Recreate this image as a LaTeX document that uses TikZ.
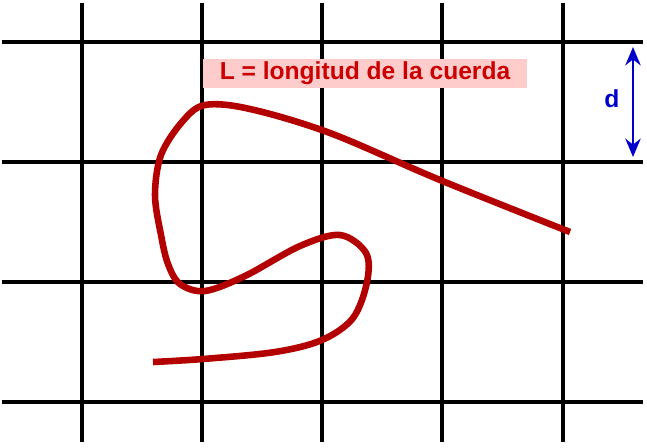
\documentclass[tikz,border=0pt]{standalone}
\usepackage{fontspec}
\setmainfont{Liberation Sans}
\usetikzlibrary{arrows.meta, positioning}
\definecolor{ropered}{RGB}{179,0,0}
\definecolor{labelred}{RGB}{204,0,0}
\definecolor{labelpink}{RGB}{255,204,204}
\definecolor{dimblue}{RGB}{0,0,204}

\begin{document}
\begin{tikzpicture}[
        x=0.03cm, y=-0.03cm,
        font=\fontsize{21}{24}\selectfont\bfseries,
        gridline/.style={
            draw=black,
            line width=3.4pt
        },
        rope/.style={
            draw=ropered,
            line width=5.6pt,
            line cap=butt
        },
        labelbox/.style={
            fill=labelpink,
            text=labelred,
            minimum width=324*0.03cm,
            minimum height=29*0.03cm,
            inner sep=0pt
        },
        dimlabel/.style={
            text=dimblue,
            inner sep=1pt
        },
        dimarrow/.style={
            {Stealth[length=5.5mm, width=4.6mm]}-{Stealth[length=5.5mm, width=4.6mm]},
            draw=dimblue,
            line width=2.2pt
        }
    ]
    \useasboundingbox (0,0) rectangle (647,447);

    % grid
    \foreach \gy in {42,162,282,402}
        \draw[gridline] (2,\gy) -- (643,\gy);
    \foreach \gx in {82,202,322,442,563}
        \draw[gridline] (\gx,3) -- (\gx,442);

    % rope
    \draw[rope] plot[smooth, tension=0.55] coordinates {
        (153,362) (203,359) (275,352) (322,340) (353,318) (367,282)
        (366,253) (340,235) (300,246) (245,276) (205,291) (180,284)
        (168,264) (161,235) (155,195) (161,155) (182,122) (205,105)
        (250,109) (330,133) (440,180) (570,232)};

    % label
    \node[labelbox] (cuerda) at (365,73) {L = longitud de la cuerda};

    % spacing
    \coordinate (dtop) at (633,47);
    \coordinate (dbot) at (633,157);
    \draw[dimarrow] (dtop) -- (dbot);
    \node[dimlabel] (dname) at (612,99) {d};

\end{tikzpicture}
\end{document}
